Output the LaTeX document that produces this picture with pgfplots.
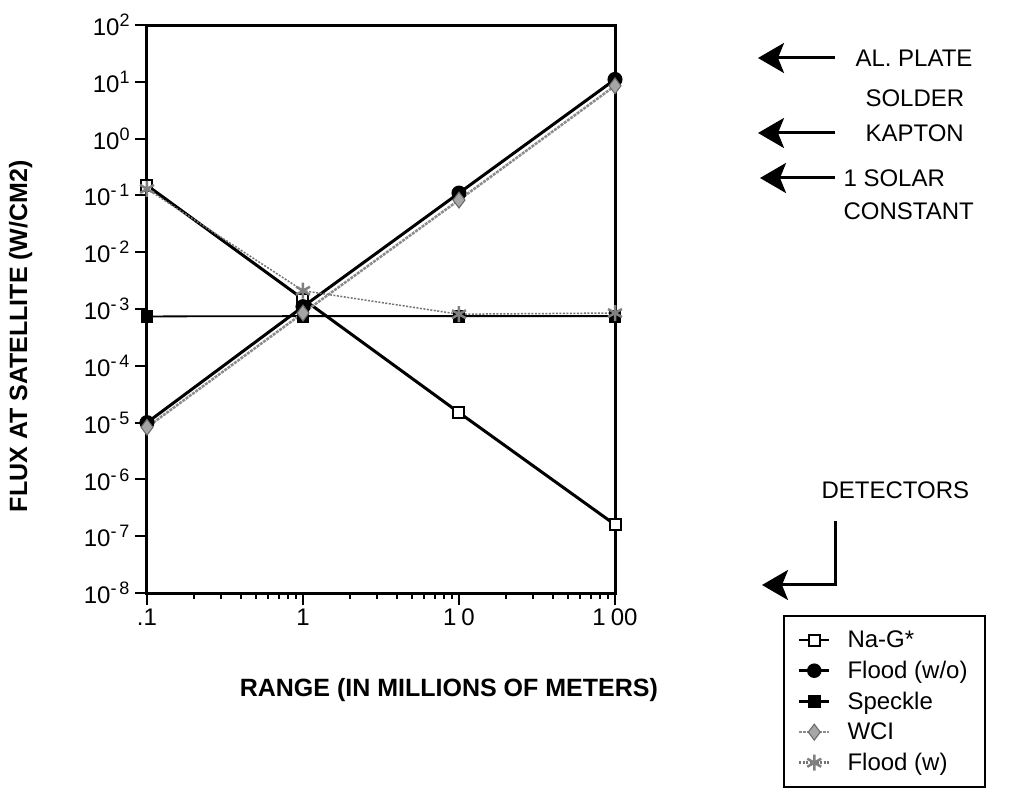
\documentclass[border=0pt]{standalone}
\usepackage{fontspec}
\setmainfont{Liberation Sans}
\usepackage{pgfplots}
\pgfplotsset{compat=1.18}
\usetikzlibrary{arrows.meta}
\newcommand{\tl}[1]{10\raisebox{9pt}{\fontsize{18}{18}\selectfont #1}}
\begin{document}
\begin{tikzpicture}[x=1pt,y=1pt]
\path[use as bounding box] (0,0) rectangle (1021,796);
\begin{axis}[
  at={(147pt,203pt)}, anchor=south west,
  scale only axis, width=468pt, height=568pt,
  xmode=log, ymode=log,
  xmin=0.1, xmax=100, ymin=1e-8, ymax=1e2,
  xtick={0.1,1,10,100},
  xticklabels={.1,1,1\hspace{5pt}0,1\hspace{5pt}00},
  ytick={1e-8,1e-7,1e-6,1e-5,1e-4,1e-3,1e-2,1e-1,1,10,100},
  yticklabels={\tl{-\,8},\tl{-\,7},\tl{-\,6},\tl{-\,5},\tl{-\,4},\tl{-\,3},\tl{-\,2},\tl{-\,1},\tl{0},\tl{1},\tl{2}},
  yminorticks=false,
  xtick pos=bottom, ytick pos=left,
  tick align=outside,
  major tick length=12pt, minor tick length=6pt,
  tick style={line width=2pt, black},
  axis line style={line width=3pt},
  tick label style={font=\fontsize{24}{26}\selectfont},
  yticklabel style={xshift=-2pt},
  /pgf/number format/assume math mode=true,
  xlabel={\textbf{RANGE (IN MILLIONS OF METERS)}},
  ylabel={\textbf{FLUX AT SATELLITE (W/CM2)}},
  label style={font=\fontsize{25}{28}\selectfont},
  xlabel style={at={(axis description cs:0.645,-0.171)}, anchor=center},
  ylabel style={at={(axis description cs:-0.27,0.452)}, anchor=center},
  legend style={at={(1.359,-0.0387)}, anchor=north west, draw=black, line width=2pt,
    font=\fontsize{24}{28}\selectfont, row sep=6pt, column sep=14pt,
    inner xsep=14pt, inner ysep=12pt,
    nodes={inner sep=3pt}},
  legend cell align=left,
  legend image code/.code={\draw[mark repeat=2,mark phase=2] plot coordinates {(0pt,0pt) (15pt,0pt) (30pt,0pt)};},
  legend image post style={line width=2.5pt},
  clip=false,
]
\addplot[black, line width=3pt, mark=square*, mark size=5.5pt, mark options={fill=white, line width=2pt, solid}]
  coordinates {(0.1,0.15) (1,1.5e-3) (10,1.5e-5) (100,1.6e-7)};
\addlegendentry{Na-G*}
\addplot[black, line width=3pt, mark=*, mark size=6pt, mark options={fill=black, solid}]
  coordinates {(0.1,1e-5) (1,1.1e-3) (10,1.1e-1) (100,11)};
\addlegendentry{Flood (w/o)}
\addplot[black, line width=1.8pt, mark=square*, mark size=5.5pt, mark options={fill=black, solid}]
  coordinates {(0.1,7.4e-4) (1,7.5e-4) (10,7.5e-4) (100,7.5e-4)};
\addlegendentry{Speckle}
\addplot[black!45, line width=2.5pt, dash pattern=on 3pt off 1pt, mark=diamond*, mark size=8pt, mark options={fill=black!35, draw=black!60, line width=1pt, solid}]
  coordinates {(0.1,8.3e-6) (1,8.5e-4) (10,8.3e-2) (100,8.5)};
\addlegendentry{WCI}
\addplot[black!55, line width=1.5pt, dash pattern=on 2pt off 1.5pt, mark=asterisk, mark size=8pt, mark options={draw=black!50, line width=2.5pt, solid}]
  coordinates {(0.1,0.13) (1,2.1e-3) (10,8.1e-4) (100,8.5e-4)};
\addlegendentry{Flood (w)}
\end{axis}
% annotations
\begin{scope}[line width=3pt, -{Stealth[length=26pt,width=30pt,inset=6pt]}]
\draw (835,738) -- (758,738);
\draw (835,663) -- (758,663);
\draw (835,618) -- (760,618);
\draw (835,275) -- (835,211) -- (762,211);
\end{scope}
\begin{scope}[font=\fontsize{24}{28}\selectfont]
\node[anchor=west] at (852,738) {AL. PLATE};
\node[anchor=west] at (862,698) {SOLDER};
\node[anchor=west] at (862,663) {KAPTON};
\node[anchor=west] at (840,618) {1 SOLAR};
\node[anchor=west] at (840,585) {CONSTANT};
\node[anchor=west] at (818,306) {DETECTORS};
\end{scope}
\end{tikzpicture}
\end{document}
